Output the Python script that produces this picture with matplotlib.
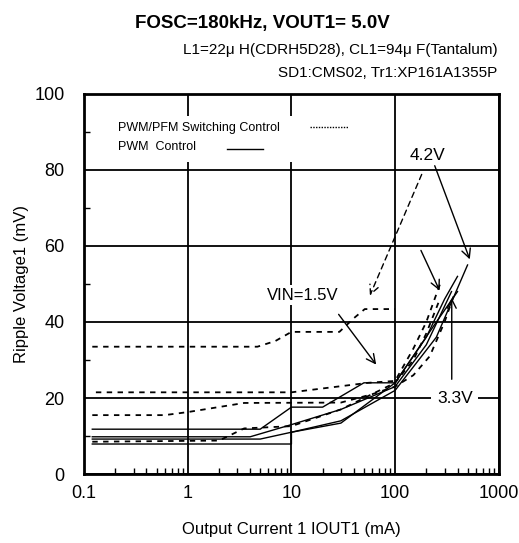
import numpy as np
import matplotlib
matplotlib.use("Agg")
import matplotlib.pyplot as plt
from matplotlib.patches import Rectangle

plt.rcParams['font.family'] = ['Liberation Sans', 'DejaVu Sans']

# PWM control (solid)
s1_x = [0.12, 5, 10, 20, 50, 100, 200, 300, 400]
s1_y = [11.8, 11.8, 17.6, 17.6, 24, 24, 36, 46, 52]
s2_x = [0.12, 4, 10, 30, 100, 200, 350]
s2_y = [9.8, 9.8, 13, 17, 23, 34, 48]
s3_x = [0.12, 5, 10, 30, 100, 250, 400]
s3_y = [9.2, 9.2, 11, 13.4, 24, 40, 48]
s4_x = [0.12, 10, 10, 30, 100, 250, 500]
s4_y = [7.9, 7.9, 11, 14, 22, 36, 55]

# PWM/PFM switching control (dashed)
d1_x = [0.12, 4.7, 7, 10, 29, 40, 51, 100]
d1_y = [33.5, 33.5, 35, 37.4, 37.4, 41, 43.4, 43.4]
d2_x = [0.13, 10, 55, 100, 150, 200, 280]
d2_y = [21.5, 21.5, 24, 24.5, 33, 40, 51]
d3_x = [0.12, 0.6, 1, 3.5, 30, 60, 100, 150, 216, 300, 380]
d3_y = [15.5, 15.5, 16.3, 18.7, 18.8, 21, 23, 26, 31, 40, 48]
d4_x = [0.12, 2, 3.5, 10, 30, 100, 150, 200, 270]
d4_y = [8.5, 8.8, 12, 12.6, 17, 24, 30, 37, 46]

solid = [(s1_x, s1_y), (s2_x, s2_y), (s3_x, s3_y), (s4_x, s4_y)]
dashed = [(d1_x, d1_y), (d2_x, d2_y), (d3_x, d3_y), (d4_x, d4_y)]

fig = plt.figure(figsize=(5.19, 5.43), dpi=100)
ax = fig.add_axes([0.162, 0.127, 0.799, 0.700])

for x, y in solid:
    ax.plot(x, y, color='black', lw=1.0, zorder=3)
for x, y in dashed:
    ax.plot(x, y, color='black', lw=1.3, linestyle=(0, (3, 3)), zorder=3)

ax.set_xscale('log')
ax.set_xlim(0.1, 1000)
ax.set_ylim(0, 100)
ax.set_xticks([0.1, 1, 10, 100, 1000])
ax.set_xticklabels(['0.1', '1', '10', '100', '1000'])
ax.set_yticks([0, 20, 40, 60, 80, 100])
ax.set_yticks([10, 30, 50, 70, 90], minor=True)
ax.grid(True, which='major', color='black', lw=1.3)
ax.tick_params(which='major', length=0, labelsize=13)
ax.tick_params(axis='x', which='major', pad=8)
ax.tick_params(axis='y', which='major', pad=14)
ax.tick_params(which='minor', direction='in', length=4, width=1)
ax.xaxis.set_minor_formatter(matplotlib.ticker.NullFormatter())
for sp in ax.spines.values():
    sp.set_linewidth(2)

ax.set_xlabel('Output Current 1 IOUT1 (mA)', fontsize=12, labelpad=14)
ax.set_ylabel('Ripple Voltage1 (mV)', fontsize=12, labelpad=4)

fig.text(0.505, 0.957, 'FOSC=180kHz, VOUT1= 5.0V', ha='center', va='center',
         fontsize=13.5, fontweight='bold')
fig.text(0.958, 0.908, 'L1=22\u03bc H(CDRH5D28), CL1=94\u03bc F(Tantalum)',
         ha='right', va='center', fontsize=11)
fig.text(0.958, 0.866, 'SD1:CMS02, Tr1:XP161A1355P', ha='right', va='center',
         fontsize=11)

# legend
ax.add_patch(Rectangle((0.063, 0.821), 0.59, 0.121, transform=ax.transAxes,
                       facecolor='white', edgecolor='none', zorder=2.5))
ax.text(0.082, 0.911, 'PWM/PFM Switching Control', transform=ax.transAxes,
        fontsize=9, va='center', zorder=4)
ax.text(0.082, 0.861, 'PWM  Control', transform=ax.transAxes,
        fontsize=9, va='center', zorder=4)
ax.plot([0.545, 0.636], [0.913, 0.913], transform=ax.transAxes, color='black',
        lw=1, linestyle=(0, (1, 1)), zorder=4)
ax.plot([0.345, 0.431], [0.855, 0.855], transform=ax.transAxes, color='black',
        lw=1, zorder=4)

# annotations
box = dict(facecolor='white', edgecolor='none', pad=2)
arr = dict(arrowstyle='->', color='black', lw=1, mutation_scale=16)
ax.text(207, 83.7, '4.2V', ha='center', va='center', fontsize=12.5, bbox=box, zorder=4)
ax.annotate('', xy=(55.8, 46.3), xytext=(185, 79.5),
            arrowprops=dict(arr, linestyle=(0, (4, 3))), zorder=4)
ax.annotate('', xy=(537, 55.8), xytext=(236, 81.8), arrowprops=arr, zorder=4)
ax.annotate('', xy=(276, 47.6), xytext=(173, 59.5), arrowprops=arr, zorder=4)
ax.text(12.9, 47.1, 'VIN=1.5V', ha='center', va='center', fontsize=12, bbox=box, zorder=4)
ax.annotate('', xy=(68.2, 28.2), xytext=(27.5, 42.6), arrowprops=arr, zorder=4)
ax.text(377, 20, '3.3V', ha='center', va='center', fontsize=12.5,
        bbox=dict(facecolor='white', edgecolor='none', pad=4), zorder=4)
ax.annotate('', xy=(352, 47.1), xytext=(352, 24.2), arrowprops=arr, zorder=4)

fig.savefig('out.png', dpi=100)
